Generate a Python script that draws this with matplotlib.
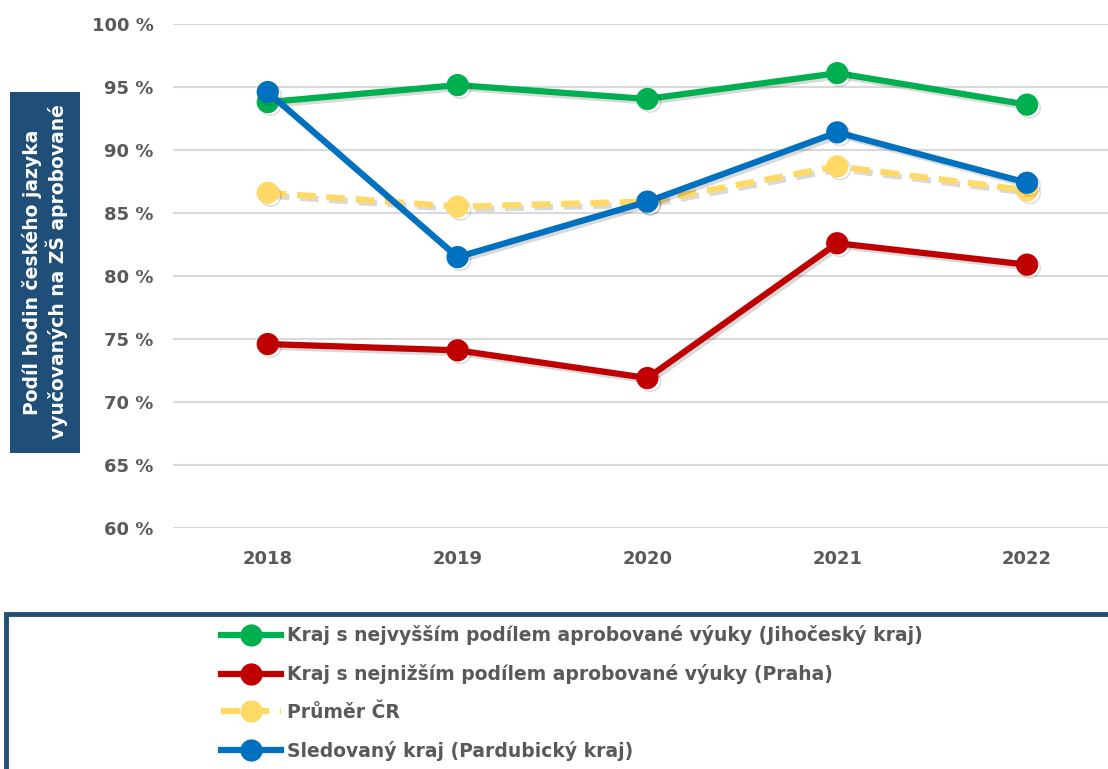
"""
Podíl aprobované výuky českého jazyka na ZŠ, 2018-2022
"""

import numpy as np
import matplotlib.pyplot as plt
import matplotlib.patheffects as pe
from matplotlib.patches import Rectangle
from matplotlib.lines import Line2D
from matplotlib.ticker import FuncFormatter

# data (%)
years   = ['2018', '2019', '2020', '2021', '2022']
jihocesky  = [93.8, 95.15, 94.05, 96.1, 93.6]
praha      = [74.6, 74.1, 71.9, 82.6, 80.9]
prumer_cr  = [86.6, 85.5, 85.9, 88.7, 86.8]
pardubicky = [94.6, 81.5, 85.9, 91.4, 87.4]

labels = ['Kraj s nejvyšším podílem aprobované výuky (Jihočeský kraj)',
          'Kraj s nejnižším podílem aprobované výuky (Praha)',
          'Průměr ČR',
          'Sledovaný kraj (Pardubický kraj)']

# colours
c_green  = '#00B050'
c_red    = '#C00000'
c_yellow = '#FFD966'
c_blue   = '#0070C0'
c_navy   = '#1F4E79'
c_text   = '#595959'

plt.rcParams['font.family'] = ['DejaVu Sans']

fig = plt.figure(figsize=(11.08, 7.69), dpi=100)

# legend box (drawn first, below the axes)
fig.patches.append(Rectangle((6 / 1108, -0.05), 1.1, 0.05 + 1 - 614 / 769,
                             transform=fig.transFigure, facecolor='white',
                             edgecolor=c_navy, linewidth=3.5, zorder=-1))
# y label box
fig.patches.append(Rectangle((10 / 1108, 1 - 453 / 769), 70 / 1108, 361 / 769,
                             transform=fig.transFigure, facecolor=c_navy,
                             edgecolor='none', zorder=-1))

ax = fig.add_axes([0.156, 0.3134, 0.8566, 0.6554])
ax.patch.set_alpha(0)

x = np.arange(len(years))
shadow = [pe.SimpleLineShadow(offset=(2, -2), shadow_color='k', alpha=0.15), pe.Normal()]

series = [(jihocesky, c_green, False),
          (praha, c_red, False),
          (prumer_cr, c_yellow, True),
          (pardubicky, c_blue, False)]

handles = []
for (vals, col, dashed), lab in zip(series, labels):
    kw = dict(color=col, linewidth=4.5, marker='o', markersize=15)
    if dashed:
        kw['dashes'] = (3, 1.7)
    ax.plot(x, vals, path_effects=shadow, zorder=3, **kw)
    handles.append(Line2D([], [], label=lab, **kw))

ax.set_xlim(-0.5, 4.5)
ax.set_ylim(60, 100)
ax.set_yticks(np.arange(60, 101, 5))
ax.yaxis.set_major_formatter(FuncFormatter(lambda v, p: f'{v:.0f} %'))
ax.set_xticks(x)
ax.set_xticklabels(years)
ax.grid(axis='y', color='#D9D9D9', linewidth=1.5)
ax.set_axisbelow(True)
for s in ax.spines.values():
    s.set_visible(False)
ax.tick_params(axis='y', length=0, labelsize=13, labelcolor=c_text, pad=14)
ax.tick_params(axis='x', length=0, labelsize=13, labelcolor=c_text, pad=16)
for t in ax.get_xticklabels() + ax.get_yticklabels():
    t.set_fontweight('bold')

fig.text(45 / 1108, 1 - 272 / 769,
         'Podíl hodin českého jazyka\nvyučovaných na ZŠ aprobované',
         rotation=90, ha='center', va='center', color='white',
         fontsize=13.5, fontweight='bold', linespacing=1.2)

leg = fig.legend(handles=handles, loc='upper left',
                 bbox_to_anchor=(212 / 1108, 1 - 616 / 769),
                 frameon=False, fontsize=13.5, handlelength=3.2,
                 labelspacing=1.0, handletextpad=0.3, borderpad=0)
for t in leg.get_texts():
    t.set_color(c_text)
    t.set_fontweight('bold')

plt.savefig('out.png', dpi=100)
